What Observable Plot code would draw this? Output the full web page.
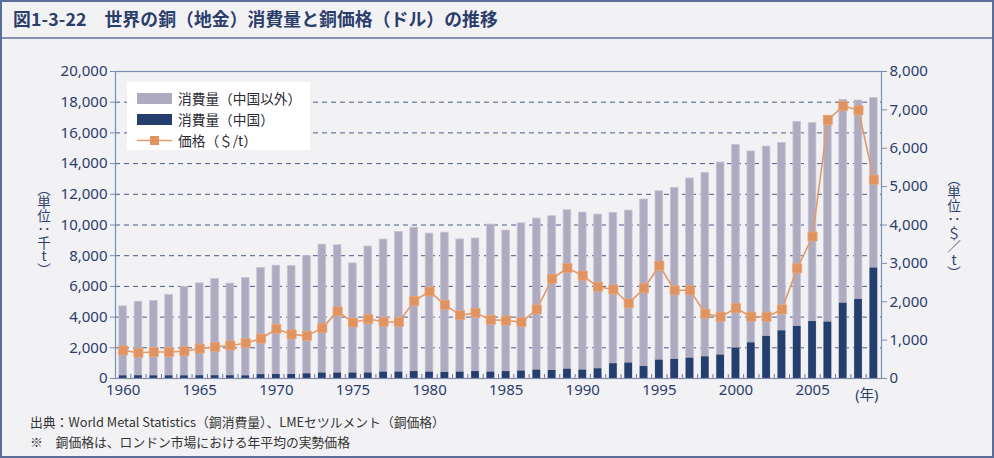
<!DOCTYPE html>
<html>
<head>
<meta charset="utf-8">
<script src="https://cdn.jsdelivr.net/npm/d3@7"></script>
<script src="https://cdn.jsdelivr.net/npm/@observablehq/plot@0.6"></script>
<style>
  html, body { margin: 0; padding: 0; background: #f2f2f5; }
  #wrap { position: relative; width: 994px; height: 458px; background: #f2f2f5; overflow: hidden;
          font-family: "Noto Sans CJK JP", "Noto Sans", sans-serif; }
  #border { position: absolute; left: 0; top: 0; width: 994px; height: 458px; box-sizing: border-box;
            border: 2px solid #5b6e99; pointer-events: none; }
  #title { position: absolute; left: 13px; top: 5px; font-size: 17.8px; font-weight: bold; color: #2b3d6b; white-space: nowrap; letter-spacing: 0.1px; }
  #titleline { position: absolute; left: 0; top: 37px; width: 994px; height: 2px; background: #8392b6; }
  #chart { position: absolute; left: 0; top: 40px; }
  .vtitle { position: absolute; writing-mode: vertical-rl; text-orientation: mixed; font-size: 13.5px; color: #2b3d6b; white-space: nowrap; }
  .vtitle span { text-orientation: upright; }
  #legend { position: absolute; left: 127px; top: 82px; width: 183px; height: 68px; background: #ffffff; }
  .li { position: absolute; left: 0; height: 20px; font-size: 13.7px; color: #2a2a33; white-space: nowrap; }
  .sw { position: absolute; left: 10px; top: 5px; width: 35px; height: 11px; }
  .lt { position: absolute; left: 51px; top: 0px; line-height: 20px; }
  #foot { position: absolute; left: 30px; top: 412px; font-size: 12.8px; color: #333; line-height: 19.5px; white-space: nowrap; }
</style>
</head>
<body>
<div id="wrap">
  <div id="title">図1-3-22　世界の銅（地金）消費量と銅価格（ドル）の推移</div>
  <div id="titleline"></div>
  <div id="chart"></div>
  <div class="vtitle" style="left:34px; top:182px;">（単位：千<span>t</span>）</div>
  <div class="vtitle" style="left:944px; top:172px;">（単位：<span>＄</span>／<span>t</span>）</div>
  <div id="legend"></div>
  <div id="foot"></div>
  <div id="border"></div>
</div>
<script>
// ---- data ----
const years = d3.range(1960, 2010);
const worldTotal = [4700, 5000, 5050, 5450, 5950, 6200, 6480, 6180, 6550, 7200,
  7350, 7320, 7980, 8720, 8680, 7500, 8600, 9050, 9550, 9830,
  9440, 9500, 9060, 9120, 10030, 9640, 10110, 10420, 10570, 10960,
  10810, 10680, 10790, 10940, 11660, 12200, 12420, 13030, 13400, 14070,
  15220, 14790, 15110, 15350, 16720, 16640, 17100, 18150, 18110, 18280];
const chinaCons = [170, 180, 170, 170, 170, 180, 180, 180, 170, 250,
  260, 260, 300, 350, 350, 350, 350, 410, 410, 450,
  410, 390, 410, 450, 410, 450, 480, 540, 520, 600,
  540, 630, 960, 1000, 780, 1190, 1240, 1320, 1410, 1520,
  1980, 2320, 2740, 3100, 3390, 3710, 3670, 4900, 5150, 7190];
const price = [730, 670, 690, 690, 710, 780, 820, 860, 920, 1040,
  1290, 1150, 1110, 1320, 1750, 1460, 1550, 1480, 1470, 2020,
  2270, 1920, 1650, 1710, 1530, 1510, 1470, 1800, 2600, 2880,
  2680, 2390, 2320, 1960, 2350, 2940, 2300, 2300, 1690, 1610,
  1830, 1610, 1610, 1800, 2870, 3700, 6740, 7100, 6990, 5180];
const leftTicks = [0, 2000, 4000, 6000, 8000, 10000, 12000, 14000, 16000, 18000, 20000];
const rightTicks = [0, 1000, 2000, 3000, 4000, 5000, 6000, 7000, 8000];
const xLabels = [1960, 1965, 1970, 1975, 1980, 1985, 1990, 1995, 2000, 2005];
const legendLabels = ["消費量（中国以外）", "消費量（中国）", "価格（＄/t）"];
const yearUnit = "(年)";
const footLines = ["出典：World Metal Statistics（銅消費量）、LMEセツルメント（銅価格）",
                   "※　銅価格は、ロンドン市場における年平均の実勢価格"];

// ---- styles ----
const cGray = "#aeabc1", cNavy = "#243f6e", cOrange = "#e0925f", cText = "#2b3d6b";
const ratio = 20000 / 8000; // right axis -> left axis

const rows = years.map((y, i) => ({year: y, total: worldTotal[i], china: chinaCons[i], price: price[i]}));
const fmt = d3.format(",");

const chart = Plot.plot({
  width: 994,
  height: 370,
  marginTop: 31,
  marginBottom: 32,
  marginLeft: 115,
  marginRight: 113,
  style: {fontFamily: "'Noto Sans', 'Noto Sans CJK JP', sans-serif", fontSize: "15px", color: cText, background: "transparent", overflow: "visible"},
  x: {type: "linear", domain: [1959.5, 2009.5]},
  y: {domain: [0, 20000]},
  marks: [
    Plot.ruleY(leftTicks.filter(d => d > 0 && d < 20000), {stroke: "#4a5c88", strokeDasharray: "5,4", strokeWidth: 1}),
    Plot.rectY(rows, {x1: d => d.year - 0.25, x2: d => d.year + 0.25, y1: 0, y2: "total", fill: cGray, stroke: "#c6c4d4", strokeWidth: 0.8}),
    Plot.rectY(rows, {x1: d => d.year - 0.25, x2: d => d.year + 0.25, y1: 0, y2: "china", fill: cNavy}),
    Plot.ruleX(rows, {x: d => d.year + 0.5, y1: 0, y2: 260, stroke: "#6a7aa0", strokeWidth: 1}),
    Plot.frame({stroke: "#7c8db3", strokeWidth: 1.2}),
    Plot.line(rows, {x: "year", y: d => d.price * ratio, stroke: "#e49a68", strokeWidth: 1.6}),
    Plot.dot(rows, {x: "year", y: d => d.price * ratio, symbol: "square", r: 5.1, fill: cOrange, stroke: "#eaa77c", strokeWidth: 0.8}),
    Plot.axisY(leftTicks, {anchor: "left", tickSize: 5, tickPadding: 3, tickFormat: fmt, stroke: "#7c8db3", label: null}),
    Plot.axisY(rightTicks.map(d => d * ratio), {anchor: "right", tickSize: 5, tickPadding: 3, tickFormat: d => fmt(d / ratio), stroke: "#7c8db3", label: null}),
    Plot.axisX(xLabels, {anchor: "bottom", tickSize: 0, tickPadding: 6, tickFormat: d => String(d), label: null}),
    Plot.text([yearUnit], {x: 2009, frameAnchor: "bottom", dx: -7, dy: 11, lineAnchor: "top", text: d => d, fill: cText, fontSize: 14.5})
  ]
});
document.getElementById("chart").appendChild(chart);

// ---- legend ----
const legend = document.getElementById("legend");
legendLabels.forEach((lab, i) => {
  const row = document.createElement("div");
  row.className = "li";
  row.style.top = (6 + i * 21) + "px";
  let sw;
  if (i < 2) {
    sw = `<div class="sw" style="background:${i === 0 ? cGray : cNavy}"></div>`;
  } else {
    sw = `<svg style="position:absolute;left:10px;top:0" width="36" height="20">
            <line x1="0" x2="35" y1="10.5" y2="10.5" stroke="#e49a68" stroke-width="1.6"/>
            <rect x="13" y="6" width="9" height="9" fill="${cOrange}"/></svg>`;
  }
  row.innerHTML = sw + `<div class="lt">${lab}</div>`;
  legend.appendChild(row);
});

document.getElementById("foot").innerHTML = footLines.map(s => `<div>${s}</div>`).join("");
</script>
</body>
</html>
